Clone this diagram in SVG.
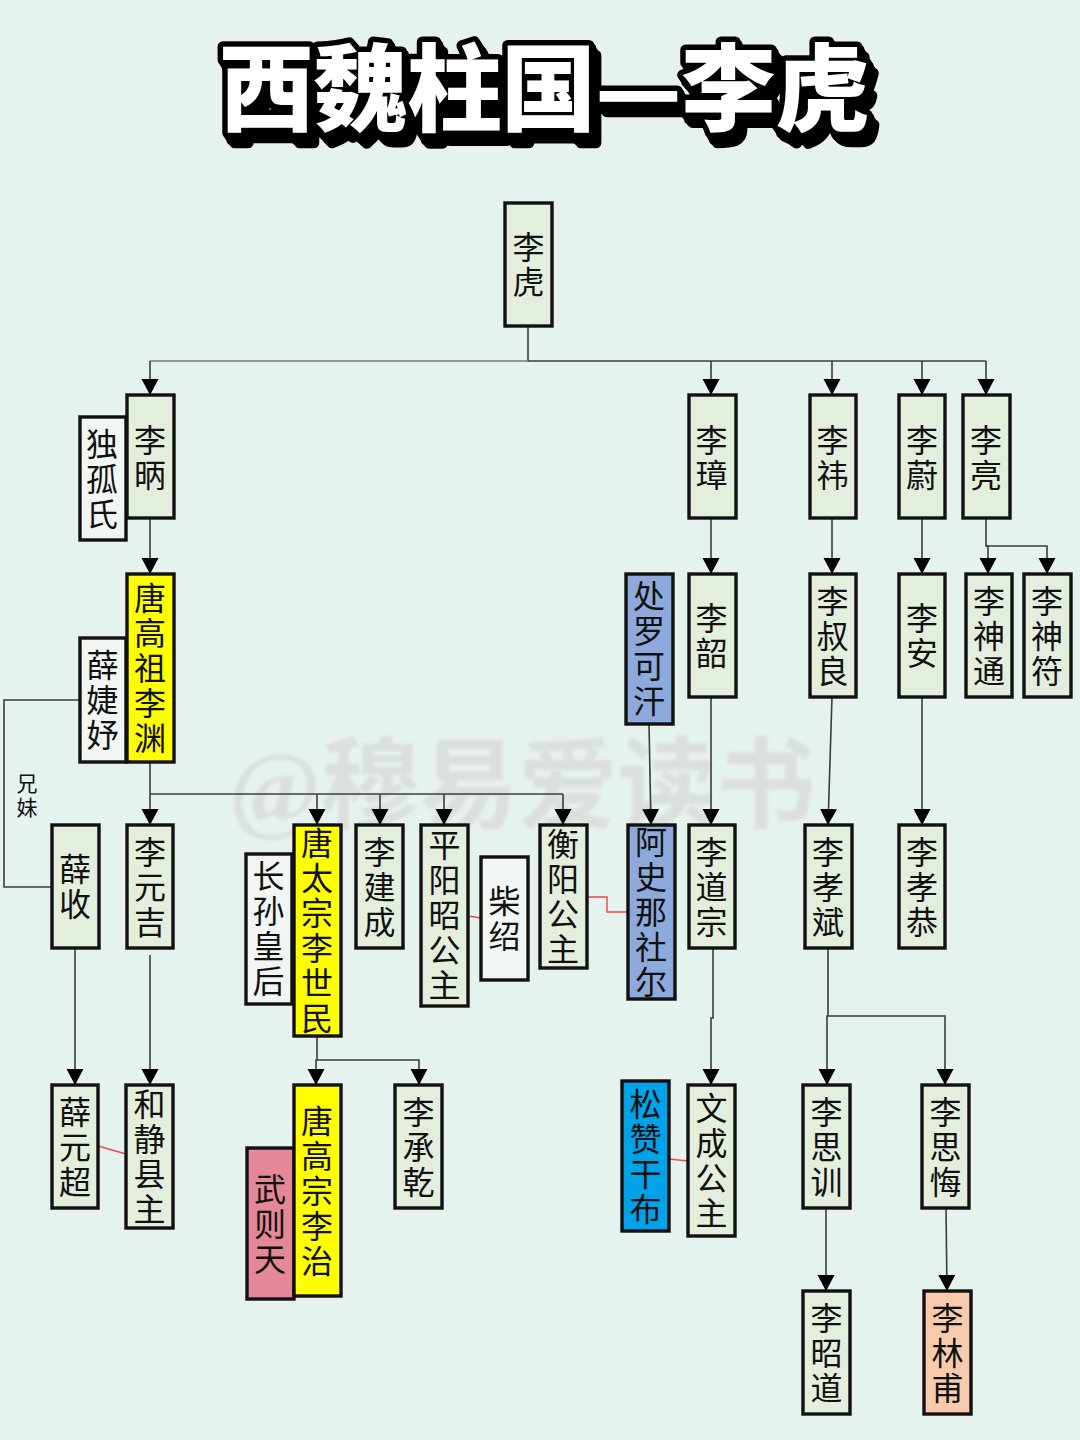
<svg xmlns="http://www.w3.org/2000/svg" width="1080" height="1440" viewBox="0 0 1080 1440">
<defs>
<style>
.n{stroke:#111;stroke-width:3.4;fill:#e3eedd}
.w{fill:#f1f6f3}.y{fill:#ffff00}.b{fill:#8ea9db}.p{fill:#e48797}.c{fill:#00a2e8}.o{fill:#f8cbad}
.t{font-family:"Noto Sans CJK SC","Noto Sans",sans-serif;font-size:32px;fill:#111;writing-mode:vertical-rl;text-anchor:middle;letter-spacing:3px;transform:translateY(1px)}
.l{fill:none;stroke:#3c3c3c;stroke-width:1.6}
.a{marker-end:url(#arr)}
.r{fill:none;stroke:#e8484f;stroke-width:1.4}
</style>
<marker id="arr" markerUnits="userSpaceOnUse" markerWidth="18" markerHeight="18" refX="16" refY="8.5" orient="auto"><path d="M0 0L16 8.500L0 17Z" fill="#000"/></marker>
<filter id="ext" x="-5%" y="-20%" width="110%" height="145%">
<feOffset in="SourceAlpha" dx="2" dy="3" result="a"/>
<feOffset in="SourceAlpha" dx="4" dy="7" result="b"/>
<feOffset in="SourceAlpha" dx="7" dy="10" result="c"/>
<feMerge><feMergeNode in="c"/><feMergeNode in="b"/><feMergeNode in="a"/><feMergeNode in="SourceGraphic"/></feMerge>
</filter>
<filter id="soft"><feGaussianBlur stdDeviation="1.5"/></filter>
</defs>
<rect width="1080" height="1440" fill="#e6f2ee"/>
<text x="544" y="124" filter="url(#ext)" text-anchor="middle" style="font-family:'Noto Sans CJK SC',sans-serif;font-weight:900;font-size:95px;letter-spacing:-1px;fill:#fff;stroke:#000;stroke-width:11px;stroke-linejoin:round;paint-order:stroke">西魏柱国—李虎</text>
<text x="522" y="820" filter="url(#soft)" text-anchor="middle" style="font-family:'Liberation Serif','Noto Sans CJK SC',serif;font-weight:700;font-size:99px;fill:#dadcd8;opacity:.8">@穆易爱读书</text>
<g id="connectors">
<path class="l" d="M528 325V361"/>
<path class="l" style="stroke:#777" d="M528 361H150"/>
<path class="l a" d="M150 361V395"/>
<path class="l" d="M528 361H986"/>
<path class="l a" d="M711 361V395"/>
<path class="l a" d="M832 361V395"/>
<path class="l a" d="M922 361V395"/>
<path class="l a" d="M986 361V395"/>
<path class="l a" d="M150 518V574"/>
<path class="l a" d="M711 518V574"/>
<path class="l a" d="M832 518V574"/>
<path class="l a" d="M922 518V574"/>
<path class="l a" d="M986 518V546H988V574"/>
<path class="l a" d="M986 546H1047V574"/>
<path class="l a" d="M150 762V825"/>
<path class="l" d="M150 794H563"/>
<path class="l a" d="M317 794V825"/>
<path class="l a" d="M380 794V825"/>
<path class="l a" d="M444 794V825"/>
<path class="l a" d="M563 794V825"/>
<path class="l a" d="M649 724L651 825"/>
<path class="l a" d="M711 697V825"/>
<path class="l a" d="M832 697L828 825"/>
<path class="l a" d="M922 697V825"/>
<path class="l" d="M80 700H4V887H52"/>
<path class="l a" d="M75 948V1085"/>
<path class="l a" d="M150 955V1085"/>
<path class="l a" d="M317 1036V1060H316V1085"/>
<path class="l a" d="M317 1060H419V1085"/>
<path class="l a" d="M713 948V1018H711V1085"/>
<path class="l a" d="M828 948V1016H827V1085"/>
<path class="l a" d="M828 1016H945V1085"/>
<path class="l a" d="M826 1208V1291"/>
<path class="l a" d="M946 1208L947 1291"/>
<path class="r" d="M468 916L481 918"/>
<path class="r" d="M587 897H607V912H628"/>
<path class="r" d="M98 1146L126 1154"/>
<path class="r" d="M669 1159L688 1161"/>
</g>
<text x="27" y="797" style="font-family:'Noto Sans CJK SC',sans-serif;font-size:21px;fill:#111;writing-mode:vertical-rl;text-anchor:middle;letter-spacing:3px">兄妹</text>
<g id="n1"><rect class="n" x="505" y="203" width="47" height="123"/><text class="t" x="528.5" y="265">李虎</text></g>
<g id="n2"><rect class="n w" x="80" y="417" width="46" height="123"/><text class="t" x="102" y="479">独孤氏</text></g>
<g id="n3"><rect class="n" x="127" y="395" width="47" height="123"/><text class="t" x="150" y="458">李昞</text></g>
<g id="n4"><rect class="n" x="689" y="395" width="47" height="123"/><text class="t" x="711.5" y="458">李璋</text></g>
<g id="n5"><rect class="n" x="810" y="395" width="46" height="123"/><text class="t" x="832.5" y="458">李祎</text></g>
<g id="n6"><rect class="n" x="899" y="395" width="46" height="123"/><text class="t" x="922" y="458">李蔚</text></g>
<g id="n7"><rect class="n" x="963" y="395" width="47" height="123"/><text class="t" x="986" y="458">李亮</text></g>
<g id="n8"><rect class="n w" x="80" y="638" width="46" height="124"/><text class="t" x="102.500" y="700">薛婕妤</text></g>
<g id="n9"><rect class="n y" x="127" y="574" width="47" height="188"/><text class="t" x="150" y="668">唐高祖李渊</text></g>
<g id="n10"><rect class="n b" x="626" y="574" width="47" height="150"/><text class="t" x="649" y="649">处罗可汗</text></g>
<g id="n11"><rect class="n" x="689" y="574" width="47" height="123"/><text class="t" x="711.5" y="636">李韶</text></g>
<g id="n12"><rect class="n" x="810" y="574" width="46" height="123"/><text class="t" x="832.500" y="636">李叔良</text></g>
<g id="n13"><rect class="n" x="899" y="574" width="46" height="123"/><text class="t" x="922" y="636">李安</text></g>
<g id="n14"><rect class="n" x="966" y="574" width="46" height="123"/><text class="t" x="989" y="636">李神通</text></g>
<g id="n15"><rect class="n" x="1024" y="574" width="47" height="123"/><text class="t" x="1047" y="636">李神符</text></g>
<g id="n16"><rect class="n" x="52" y="825" width="47" height="123"/><text class="t" x="75" y="887">薛收</text></g>
<g id="n17"><rect class="n" x="127" y="825" width="46" height="123"/><text class="t" x="150" y="887">李元吉</text></g>
<g id="n18"><rect class="n w" x="246" y="854" width="46" height="150"/><text class="t" x="268.500" y="929">长孙皇后</text></g>
<g id="n19"><rect class="n y" x="294" y="825" width="47" height="211"/><text class="t" x="317" y="931">唐太宗李世民</text></g>
<g id="n20"><rect class="n" x="356" y="825" width="47" height="123"/><text class="t" x="379.500" y="887">李建成</text></g>
<g id="n21"><rect class="n" x="421" y="825" width="47" height="181"/><text class="t" x="444.500" y="915">平阳昭公主</text></g>
<g id="n22"><rect class="n w" x="481" y="857" width="47" height="123"/><text class="t" x="504.500" y="919">柴绍</text></g>
<g id="n23"><rect class="n" x="540" y="825" width="47" height="143"/><text class="t" x="563" y="897">衡阳公主</text></g>
<g id="n24"><rect class="n b" x="628" y="825" width="47" height="174"/><text class="t" x="651" y="912">阿史那社尔</text></g>
<g id="n25"><rect class="n" x="689" y="825" width="46" height="123"/><text class="t" x="711.500" y="887">李道宗</text></g>
<g id="n26"><rect class="n" x="805" y="825" width="47" height="123"/><text class="t" x="828" y="887">李孝斌</text></g>
<g id="n27"><rect class="n" x="899" y="825" width="46" height="123"/><text class="t" x="922" y="887">李孝恭</text></g>
<g id="n28"><rect class="n" x="52" y="1085" width="46" height="123"/><text class="t" x="75" y="1147">薛元超</text></g>
<g id="n29"><rect class="n" x="126" y="1085" width="47" height="143"/><text class="t" x="149.500" y="1157">和静县主</text></g>
<g id="n30"><rect class="n p" x="247" y="1148" width="47" height="151"/><text class="t" x="270" y="1224">武则天</text></g>
<g id="n31"><rect class="n y" x="294" y="1085" width="47" height="211"/><text class="t" x="317" y="1191">唐高宗李治</text></g>
<g id="n32"><rect class="n" x="395" y="1085" width="47" height="123"/><text class="t" x="418.500" y="1147">李承乾</text></g>
<g id="n33"><rect class="n c" x="622" y="1081" width="47" height="150"/><text class="t" x="645.500" y="1157">松赞干布</text></g>
<g id="n34"><rect class="n" x="688" y="1085" width="47" height="151"/><text class="t" x="711.500" y="1161">文成公主</text></g>
<g id="n35"><rect class="n" x="803" y="1085" width="47" height="123"/><text class="t" x="826.500" y="1147">李思训</text></g>
<g id="n36"><rect class="n" x="922" y="1085" width="47" height="123"/><text class="t" x="945.500" y="1147">李思悔</text></g>
<g id="n37"><rect class="n" x="803" y="1291" width="47" height="123"/><text class="t" x="826.500" y="1353">李昭道</text></g>
<g id="n38"><rect class="n o" x="924" y="1291" width="47" height="123"/><text class="t" x="947.500" y="1353">李林甫</text></g>
</svg>
